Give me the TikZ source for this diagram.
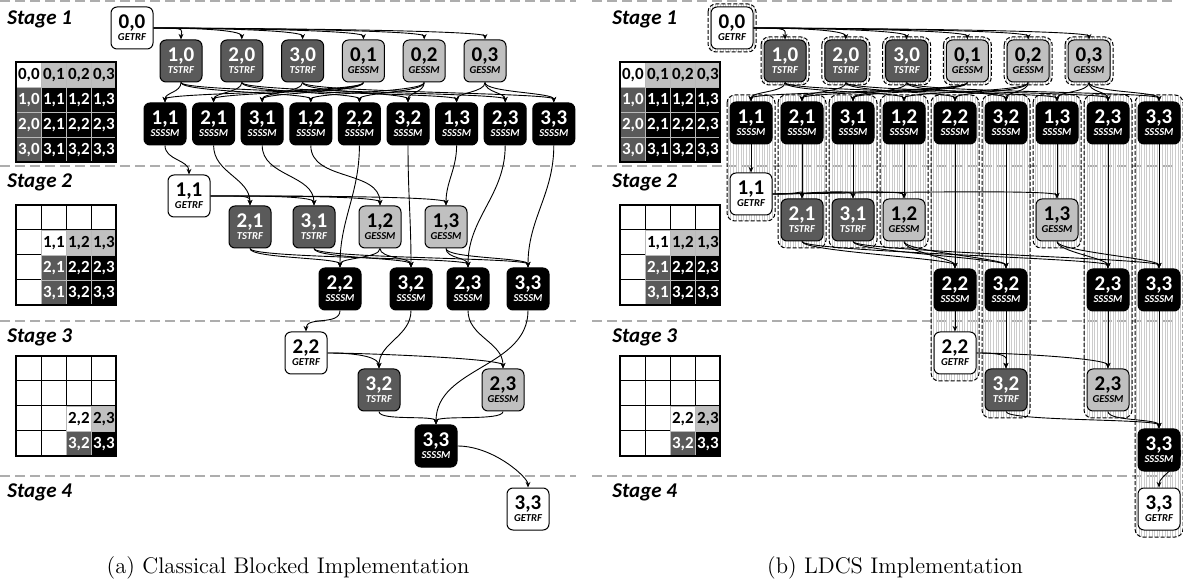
\documentclass[tikz,border=0pt]{standalone}
\usepackage{fontspec}
\usepackage{tikz}
\usetikzlibrary{arrows.meta}
\usetikzlibrary{patterns.meta}
\newfontfamily\calib{Carlito}
\definecolor{tdark}{HTML}{5A5A5A}
\definecolor{tlight}{HTML}{C0C0C0}
\definecolor{sepgray}{HTML}{ADADAD}
\newcommand{\blk}[2]{\textbf{#1}\\{\fontsize{5.3}{6}\selectfont\bfseries\itshape #2}}
% 4x4 block grid of the trailing matrix at stage #4
\newcommand{\stagegrid}[4]{%
  \foreach \r in {0,...,3} \foreach \c in {0,...,3} {
    \draw[line width=0.5pt] (#1+25*\c,#2+25*\r) rectangle +(25,25);
  }
  \foreach \r in {#4,...,3} \foreach \c in {#4,...,3} {
    \ifnum\r=#4\relax
      \ifnum\c=#4\relax \def\cellfill{white}\def\celltext{black}\else\def\cellfill{tlight}\def\celltext{black}\fi
    \else
      \ifnum\c=#4\relax \def\cellfill{tdark}\def\celltext{white}\else\def\cellfill{black}\def\celltext{white}\fi
    \fi
    \node[cell, fill=\cellfill, text=\celltext] (#3-\r\c) at (#1+25*\c,#2+25*\r) {\r,\c};
  }
  \draw[line width=0.6pt] (#1,#2) rectangle +(100,100);
}
\tikzset{
  task/.style={draw=black, line width=0.5pt, rounded corners=3pt, minimum width=21pt,
    minimum height=21pt, inner sep=0pt, align=center, font=\calib\fontsize{10.5}{6}\selectfont},
  getrf/.style={task, fill=white},
  tstrf/.style={task, fill=tdark, text=white},
  gessm/.style={task, fill=tlight},
  ssssm/.style={task, fill=black, text=white},
  cell/.style={anchor=north west, minimum size=12.5pt, inner sep=0pt, draw=gray!55,
    line width=0.4pt, font=\calib\bfseries\fontsize{8.5}{8.5}\selectfont},
  stagelbl/.style={anchor=west, inner sep=0pt, font=\calib\bfseries\itshape\fontsize{10.5}{12}\selectfont},
  subcap/.style={anchor=base, inner sep=0pt, font=\fontsize{11.3}{13}\selectfont},
  stagesep/.style={draw=sepgray, line width=0.6pt, dash pattern=on 5pt off 2.5pt},
  lane/.style={draw=black, line width=0.5pt, dash pattern=on 2pt off 1pt, rounded corners=4pt,
    pattern={Lines[angle=90,distance=1.3pt,line width=0.3pt]}, pattern color=gray!40},
  dep/.style={-{Stealth[length=2.8pt,width=2.4pt]}, line width=0.45pt},
  hbend/.style={out=0, in=90, out distance=18pt, in distance=5pt},
  vbend/.style={out=-90, in=90, out distance=5pt, in distance=5pt},
  vdrop/.style={out=-90, in=90}
}

\begin{document}
\begin{tikzpicture}[x=0.5pt, y=-0.5pt]
  \useasboundingbox (0,0) rectangle (1183,582);

  % stage separators and labels
  \foreach \y in {1,166,321,476} {
    \draw[stagesep] (0,\y) -- (576,\y);
    \draw[stagesep] (592,\y) -- (1173,\y);
  }
  \foreach \y [count=\n] in {19,182,337,492} {
    \node[stagelbl] (a-st\n) at (7,\y) {Stage \n};
    \node[stagelbl] (b-st\n) at (612,\y) {Stage \n};
  }

  % trailing matrices
  \stagegrid{16}{62}{am1}{0}
  \stagegrid{16}{205}{am2}{1}
  \stagegrid{16}{356}{am3}{2}
  \stagegrid{620}{62}{bm1}{0}
  \stagegrid{620}{205}{bm2}{1}
  \stagegrid{620}{356}{bm3}{2}

  %%% (a) classical blocked
  \node[getrf] (a1-00) at (132,28) {\blk{0,0}{GETRF}};
  \foreach \i [count=\n from 0] in {1,2,3}
    \node[tstrf] (a1-\i0) at ({181+60.8*\n},61) {\blk{\i,0}{TSTRF}};
  \foreach \j [count=\n from 3] in {1,2,3}
    \node[gessm] (a1-0\j) at ({181+60.8*\n},61) {\blk{0,\j}{GESSM}};
  \foreach \j in {1,2,3} \foreach \i in {1,2,3}
    \node[ssssm] (a1-\i\j) at ({165+48.6*(3*\j+\i-4)},124) {\blk{\i,\j}{SSSSM}};

  \node[getrf] (a2-11) at (189,196) {\blk{1,1}{GETRF}};
  \node[tstrf] (a2-21) at (250,227) {\blk{2,1}{TSTRF}};
  \node[tstrf] (a2-31) at (314,227) {\blk{3,1}{TSTRF}};
  \node[gessm] (a2-12) at (380,227) {\blk{1,2}{GESSM}};
  \node[gessm] (a2-13) at (446,227) {\blk{1,3}{GESSM}};
  \node[ssssm] (a2-22) at (340,289) {\blk{2,2}{SSSSM}};
  \node[ssssm] (a2-32) at (411,289) {\blk{3,2}{SSSSM}};
  \node[ssssm] (a2-23) at (468,289) {\blk{2,3}{SSSSM}};
  \node[ssssm] (a2-33) at (528,289) {\blk{3,3}{SSSSM}};

  \node[getrf] (a3-22) at (306,353) {\blk{2,2}{GETRF}};
  \node[tstrf] (a3-32) at (379,390) {\blk{3,2}{TSTRF}};
  \node[gessm] (a3-23) at (503,390) {\blk{2,3}{GESSM}};
  \node[ssssm] (a3-33) at (436,446) {\blk{3,3}{SSSSM}};

  \node[getrf] (a4-33) at (528,509) {\blk{3,3}{GETRF}};

  \foreach \k in {10,20,30,01,02,03}
    \draw[dep] (a1-00.east) to[hbend] (a1-\k.north);
  \foreach \i in {1,2,3} \foreach \j in {1,2,3} {
    \draw[dep] (a1-\i0.south) to[vbend] (a1-\i\j.north);
    \draw[dep] (a1-0\j.south) to[vbend] (a1-\i\j.north);
  }
  \foreach \k in {11,21,31,12,22,32,13,23,33}
    \draw[dep] (a1-\k.south) to[vdrop] (a2-\k.north);
  \foreach \k in {21,31,12,13}
    \draw[dep] (a2-11.east) to[hbend] (a2-\k.north);
  \foreach \i in {2,3} \foreach \j in {2,3} {
    \draw[dep] (a2-\i1.south) to[vbend] (a2-\i\j.north);
    \draw[dep] (a2-1\j.south) to[vbend] (a2-\i\j.north);
  }
  \foreach \k in {22,32,23,33}
    \draw[dep] (a2-\k.south) to[vdrop] (a3-\k.north);
  \foreach \k in {32,23}
    \draw[dep] (a3-22.east) to[hbend] (a3-\k.north);
  \draw[dep] (a3-32.south) to[vbend] (a3-33.north);
  \draw[dep] (a3-23.south) to[vbend] (a3-33.north);
  \draw[dep] (a3-33.east) to[hbend] (a4-33.north);

  %%% (b) LDCS
  % lanes: one per tile, kept from its first update to its last task
  \draw[lane] (708,4) rectangle (756,52);
  \foreach \x in {785,845.8,906.6,967.4,1028.2,1089}
    \draw[lane] (\x-24,37) rectangle (\x+24,85);
  \foreach \x/\yb in {751/221,802/248,853/248,904/248,955/381,1006/418,1057/248,1108/418,1159/537}
    \draw[lane] (\x-24,95) rectangle (\x+24,\yb);

  \node[getrf] (b1-00) at (732,28) {\blk{0,0}{GETRF}};
  \foreach \i [count=\n from 0] in {1,2,3}
    \node[tstrf] (b1-\i0) at ({785+60.8*\n},61) {\blk{\i,0}{TSTRF}};
  \foreach \j [count=\n from 3] in {1,2,3}
    \node[gessm] (b1-0\j) at ({785+60.8*\n},61) {\blk{0,\j}{GESSM}};
  \foreach \j in {1,2,3} \foreach \i in {1,2,3}
    \node[ssssm] (b1-\i\j) at ({751+51*(3*\j+\i-4)},123) {\blk{\i,\j}{SSSSM}};

  \node[getrf] (b2-11) at (751,194) {\blk{1,1}{GETRF}};
  \node[tstrf] (b2-21) at (802,220) {\blk{2,1}{TSTRF}};
  \node[tstrf] (b2-31) at (853,220) {\blk{3,1}{TSTRF}};
  \node[gessm] (b2-12) at (904,220) {\blk{1,2}{GESSM}};
  \node[gessm] (b2-13) at (1057,220) {\blk{1,3}{GESSM}};
  \node[ssssm] (b2-22) at (955,290) {\blk{2,2}{SSSSM}};
  \node[ssssm] (b2-32) at (1006,290) {\blk{3,2}{SSSSM}};
  \node[ssssm] (b2-23) at (1108,290) {\blk{2,3}{SSSSM}};
  \node[ssssm] (b2-33) at (1159,290) {\blk{3,3}{SSSSM}};

  \node[getrf] (b3-22) at (955,353) {\blk{2,2}{GETRF}};
  \node[tstrf] (b3-32) at (1006,390) {\blk{3,2}{TSTRF}};
  \node[gessm] (b3-23) at (1108,390) {\blk{2,3}{GESSM}};
  \node[ssssm] (b3-33) at (1159,450) {\blk{3,3}{SSSSM}};

  \node[getrf] (b4-33) at (1159,509) {\blk{3,3}{GETRF}};

  \foreach \k in {10,20,30,01,02,03}
    \draw[dep] (b1-00.east) to[hbend] (b1-\k.north);
  \foreach \i in {1,2,3} \foreach \j in {1,2,3} {
    \draw[dep] (b1-\i0.south) to[vbend] (b1-\i\j.north);
    \draw[dep] (b1-0\j.south) to[vbend] (b1-\i\j.north);
  }
  \foreach \k in {11,21,31,12,22,32,13,23,33}
    \draw[dep] (b1-\k.south) -- (b2-\k.north);
  \foreach \k in {21,31,12,13}
    \draw[dep] (b2-11.east) to[hbend] (b2-\k.north);
  \foreach \i in {2,3} \foreach \j in {2,3} {
    \draw[dep] (b2-\i1.south) to[vbend] (b2-\i\j.north);
    \draw[dep] (b2-1\j.south) to[vbend] (b2-\i\j.north);
  }
  \foreach \k in {22,32,23,33}
    \draw[dep] (b2-\k.south) -- (b3-\k.north);
  \foreach \k in {32,23}
    \draw[dep] (b3-22.east) to[hbend] (b3-\k.north);
  \draw[dep] (b3-32.south) to[vbend] (b3-33.north);
  \draw[dep] (b3-23.south) to[vbend] (b3-33.north);
  \draw[dep] (b3-33.east) to[out=-80, in=90, out distance=8pt, in distance=6pt] (b4-33.north);

  \node[subcap] (a-cap) at (288,573) {(a) Classical Blocked Implementation};
  \node[subcap] (b-cap) at (895,573) {(b) LDCS Implementation};
\end{tikzpicture}
\end{document}
